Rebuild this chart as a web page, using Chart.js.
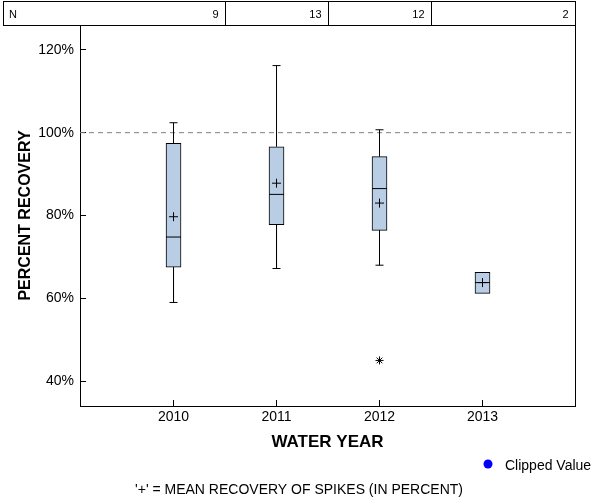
<!DOCTYPE html>
<html>
<head>
<meta charset="utf-8">
<script src="https://cdn.jsdelivr.net/npm/chart.js@4/dist/chart.umd.min.js"></script>
<style>
  body { margin: 0; background: #fff; }
  canvas { display: block; }
</style>
</head>
<body>
<canvas id="chart" width="600" height="500"></canvas>
<script>
// values
const years = [2010, 2011, 2012, 2013];
const counts = [9, 13, 12, 2];
const whiskerLow = [59.0, 67.2, 68.0, null];
const q1 = [67.5, 77.8, 76.4, 61.2];
const median = [74.8, 85.1, 86.5, 63.8];
const q3 = [97.4, 96.6, 94.2, 66.3];
const whiskerHigh = [102.4, 116.2, 100.7, null];
const means = [79.7, 87.8, 83.0, 63.8];
const outlierYears = [2012];
const outlierValues = [45.0];
const yTicks = [40, 60, 80, 100, 120];
const refValue = 100;
const xMin = 2009.092, xMax = 2013.898;
const yMin = 34, yMax = 126;

const FONT = '"Liberation Sans", Arial, sans-serif';

// box bodies
const boxData = years.map((yr, i) => ({ x: yr, y: [q1[i], q3[i]] }));

// whisker stems, broken with null points
const stems = [];
years.forEach((yr, i) => {
    if (whiskerHigh[i] == null) return;
    stems.push({ x: yr, y: q3[i] }, { x: yr, y: whiskerHigh[i] }, { x: yr, y: null });
    stems.push({ x: yr, y: q1[i] }, { x: yr, y: whiskerLow[i] }, { x: yr, y: null });
});

const caps = [];
years.forEach((yr, i) => {
    if (whiskerHigh[i] != null) caps.push({ x: yr, y: whiskerHigh[i] });
    if (whiskerLow[i] != null) caps.push({ x: yr, y: whiskerLow[i] });
});

const medianData = years.map((yr, i) => ({ x: yr, y: median[i] }));
const meanData = years.map((yr, i) => ({ x: yr, y: means[i] }));
const outlierData = outlierYears.map((yr, i) => ({ x: yr, y: outlierValues[i] }));
const refData = [{ x: xMin, y: refValue }, { x: xMax, y: refValue }];

// N table above the plot, frame, legend and footnote
const extras = {
    id: 'extras',
    afterDraw(chart) {
        const ctx = chart.ctx;
        const area = chart.chartArea;
        const x = chart.scales.x;
        ctx.save();
        ctx.strokeStyle = '#000';
        ctx.lineWidth = 1;
        // table box
        const tTop = 1.5, tBot = area.top + 0.5, tLeft = 3.5, tRight = Math.round(area.right) + 0.5;
        ctx.strokeRect(tLeft, tTop, tRight - tLeft, tBot - tTop);
        // right frame line
        ctx.beginPath();
        ctx.moveTo(tRight, tBot);
        ctx.lineTo(tRight, Math.round(area.bottom) + 0.5);
        ctx.stroke();
        // column dividers at midpoints between years
        const edges = [];
        for (let i = 0; i < years.length - 1; i++) {
            const px = Math.round(x.getPixelForValue((years[i] + years[i + 1]) / 2)) + 0.5;
            edges.push(px);
            ctx.beginPath();
            ctx.moveTo(px, tTop);
            ctx.lineTo(px, tBot);
            ctx.stroke();
        }
        edges.push(tRight);
        ctx.fillStyle = '#000';
        ctx.font = '11px ' + FONT;
        ctx.textBaseline = 'middle';
        const midY = (tTop + tBot) / 2 + 1;
        ctx.textAlign = 'left';
        ctx.fillText('N', 9, midY);
        ctx.textAlign = 'right';
        counts.forEach((n, i) => ctx.fillText(String(n), edges[i] - 7, midY));

        // legend
        ctx.fillStyle = '#0000ff';
        ctx.beginPath();
        ctx.arc(488, 464, 4.5, 0, Math.PI * 2);
        ctx.fill();
        ctx.fillStyle = '#000';
        ctx.font = '14px ' + FONT;
        ctx.textAlign = 'left';
        ctx.fillText('Clipped Value', 505, 466);

        // footnote
        ctx.textAlign = 'center';
        ctx.fillText("'+' = MEAN RECOVERY OF SPIKES (IN PERCENT)", 299, 490);
        ctx.restore();
    }
};

new Chart(document.getElementById('chart'), {
    type: 'bar',
    data: {
        datasets: [
            {
                type: 'line',
                data: refData,
                borderColor: '#808080',
                borderWidth: 1,
                borderDash: [5, 4],
                pointRadius: 0,
                order: 10
            },
            {
                type: 'bar',
                data: boxData,
                backgroundColor: '#b9cde5',
                borderColor: '#000',
                borderWidth: 1,
                borderSkipped: false,
                barThickness: 15,
                order: 5
            },
            {
                type: 'line',
                data: stems,
                borderColor: '#000',
                borderWidth: 1,
                pointRadius: 0,
                spanGaps: false,
                order: 4
            },
            {
                type: 'scatter',
                data: caps,
                pointStyle: 'line',
                pointRadius: 4,
                borderColor: '#000',
                borderWidth: 1,
                order: 3
            },
            {
                type: 'scatter',
                data: medianData,
                pointStyle: 'line',
                pointRadius: 7.5,
                borderColor: '#000',
                borderWidth: 1,
                order: 2
            },
            {
                type: 'scatter',
                data: meanData,
                pointStyle: 'cross',
                pointRadius: 4.5,
                borderColor: '#000',
                borderWidth: 1,
                order: 1
            },
            {
                type: 'scatter',
                data: outlierData,
                pointStyle: 'star',
                pointRadius: 4,
                borderColor: '#000',
                borderWidth: 1,
                order: 1
            }
        ]
    },
    options: {
        responsive: false,
        animation: false,
        devicePixelRatio: 1,
        layout: { padding: { left: 0, right: 25, top: 25, bottom: 44 } },
        plugins: {
            legend: { display: false },
            tooltip: { enabled: false }
        },
        scales: {
            x: {
                type: 'linear',
                min: xMin,
                max: xMax,
                offset: false,
                afterBuildTicks: (scale) => { scale.ticks = years.map(v => ({ value: v })); },
                afterFit: (scale) => { scale.height = 50; },
                ticks: {
                    color: '#000',
                    font: { family: FONT, size: 14 },
                    padding: 9,
                    maxRotation: 0,
                    callback: (v) => String(v)
                },
                grid: { drawOnChartArea: false, offset: false, tickLength: -6, color: '#000' },
                border: { display: true, color: '#000', width: 1 },
                title: {
                    display: true,
                    text: 'WATER YEAR',
                    color: '#000',
                    font: { family: FONT, size: 17, weight: 'bold' },
                    padding: { top: 0, bottom: 3 }
                }
            },
            y: {
                min: yMin,
                max: yMax,
                afterBuildTicks: (scale) => { scale.ticks = yTicks.map(v => ({ value: v })); },
                afterFit: (scale) => { scale.width = 80; },
                ticks: {
                    color: '#000',
                    font: { family: FONT, size: 14 },
                    padding: 12,
                    callback: (v) => v + '%'
                },
                grid: { drawOnChartArea: false, tickLength: -6, color: '#000' },
                border: { display: true, color: '#000', width: 1 },
                title: {
                    display: true,
                    text: 'PERCENT RECOVERY',
                    color: '#000',
                    font: { family: FONT, size: 16, weight: 'bold' },
                    padding: { top: 16, bottom: 0 }
                }
            }
        }
    },
    plugins: [extras]
});
</script>
</body>
</html>
